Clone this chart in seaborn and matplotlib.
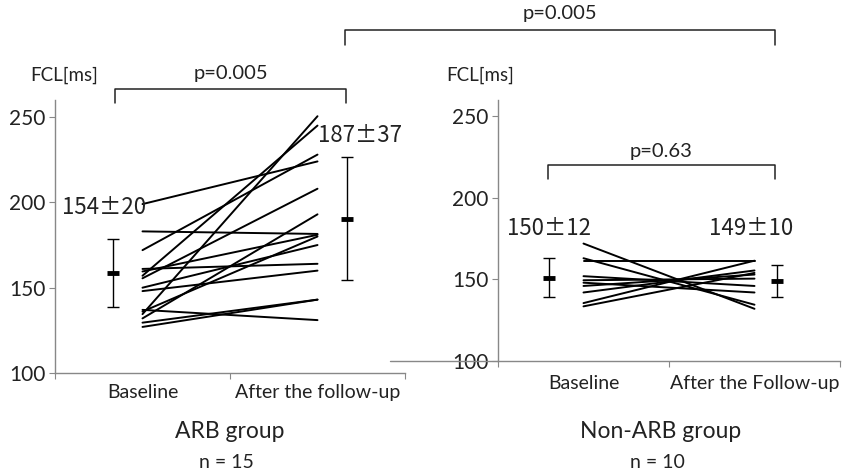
import matplotlib.pyplot as plt
import numpy as np
import pandas as pd
import seaborn as sns
from matplotlib.lines import Line2D

# FCL [ms] per patient
arb_baseline = [199, 183, 172, 161, 159.5, 157, 155.5, 150, 148, 137, 136, 134.5, 132, 129.5, 127]
arb_followup = [224, 181.5, 228, 164, 181, 245, 208, 175, 160, 131, 180, 250.5, 193, 143, 143]
non_baseline = [172, 163, 161, 152, 149.5, 148, 146, 142, 135.5, 133.5]
non_followup = [132, 134.5, 161, 146, 150.5, 142, 153, 155.5, 161.5, 154]

# mean +/- SD bars as drawn, and the printed values
arb_bar_mean = [158.6, 190.5]
arb_bar_sd = [20, 36]
non_bar_mean = [151, 149]
non_bar_sd = [12, 10]
arb_texts = ["154±20", "187±37"]
non_texts = ["150±12", "149±10"]

arb_ticks = ["Baseline", "After the follow-up"]
non_ticks = ["Baseline", "After the Follow-up"]
y_ticks = [100, 150, 200, 250]

W, H = 843, 473
sns.set_style("white")
plt.rcParams["font.family"] = ["Lato", "DejaVu Sans"]
INK = "#222222"
AXIS = "#888888"

fig = plt.figure(figsize=(W / 100, H / 100), dpi=100)


def px(x, y):
    return x / W, 1 - y / H


def long_form(base, follow):
    n = len(base)
    return pd.DataFrame({
        "subject": list(range(n)) * 2,
        "time": [0] * n + [1] * n,
        "fcl": list(base) + list(follow),
    })


def panel(rect, base, follow, bar_mean, bar_sd, bar_x, texts, text_pos, ticks, label_pad):
    ax = fig.add_axes(rect)
    sns.lineplot(data=long_form(base, follow), x="time", y="fcl", units="subject",
                 estimator=None, color="black", lw=1.4, ax=ax, legend=False)
    ax.errorbar(bar_x, bar_mean, yerr=bar_sd, fmt="none", ecolor="black",
                elinewidth=1.0, capsize=4, capthick=1.0)
    ax.plot(bar_x, bar_mean, ls="none", marker="_", ms=8, mew=3.5, color="black")
    for t, (tx, ty) in zip(texts, text_pos):
        ax.text(tx, ty, t, ha="center", va="center", fontsize=16, color=INK,
                family=["Noto Sans CJK JP", "Lato"])
    ax.set_xlim(-0.5, 1.5)
    ax.set_ylim(100, 260)
    ax.set_yticks(y_ticks)
    ax.set_xticks([-0.5, 0.5, 1.5])
    ax.set_xticklabels([])
    ax.set_xticks([0, 1], minor=True)
    ax.set_xticklabels(ticks, minor=True, fontsize=14, color=INK)
    ax.tick_params(axis="x", which="major", direction="out", length=4, color=AXIS, bottom=True)
    ax.tick_params(axis="x", which="minor", length=0, pad=label_pad)
    ax.tick_params(axis="y", direction="out", length=4, color=AXIS, left=True,
                   labelsize=15, labelcolor=INK, pad=3)
    ax.set_xlabel("")
    ax.set_ylabel("")
    for s in ["top", "right"]:
        ax.spines[s].set_visible(False)
    for s in ["left", "bottom"]:
        ax.spines[s].set_color(AXIS)
        ax.spines[s].set_linewidth(1.0)
    return ax


# left: ARB group
l0, b0 = px(55, 373)
panel([l0, b0, 350 / W, 273 / H], arb_baseline, arb_followup, arb_bar_mean, arb_bar_sd,
      [-0.17, 1.17], arb_texts, [(-0.22, 197), (1.24, 239)], arb_ticks, 8)

# right: Non-ARB group
l1, b1 = px(498, 361)
panel([l1, b1, 342 / W, 261 / H], non_baseline, non_followup, non_bar_mean, non_bar_sd,
      [-0.2, 1.13], non_texts, [(-0.2, 181), (0.98, 181)], non_ticks, 10)

# the right x axis line runs on to the left of its y axis
fig.add_artist(Line2D([390 / W, 498 / W], [1 - 361 / H] * 2, color=AXIS, lw=1.0))


def bracket(x0, x1, y, leg, label, ty):
    xs = [x0, x0, x1, x1]
    ys = [y + leg, y, y, y + leg]
    fig.add_artist(Line2D([v / W for v in xs], [1 - v / H for v in ys], color=INK, lw=1.1))
    tx, tyf = px((x0 + x1) / 2, ty)
    fig.text(tx, tyf, label, ha="center", va="center", fontsize=14.5, color=INK)


bracket(115, 346, 89, 14, "p=0.005", 73)
bracket(345, 775, 30, 15, "p=0.005", 13)
bracket(548, 775, 165, 14, "p=0.63", 152)

# y-axis units
for x in (64, 480):
    fig.text(*px(x, 75), "FCL[ms]", ha="center", va="center", fontsize=13.5, color=INK)

# group titles
for x, name, n in [(230, "ARB group", "n = 15"), (661, "Non-ARB group", "n = 10")]:
    fig.text(*px(x, 431), name, ha="center", va="center", fontsize=16.5, color=INK)
    fig.text(*px(x - 4, 462), n, ha="center", va="center", fontsize=14, color=INK)

fig.savefig("out.png", dpi=100)
